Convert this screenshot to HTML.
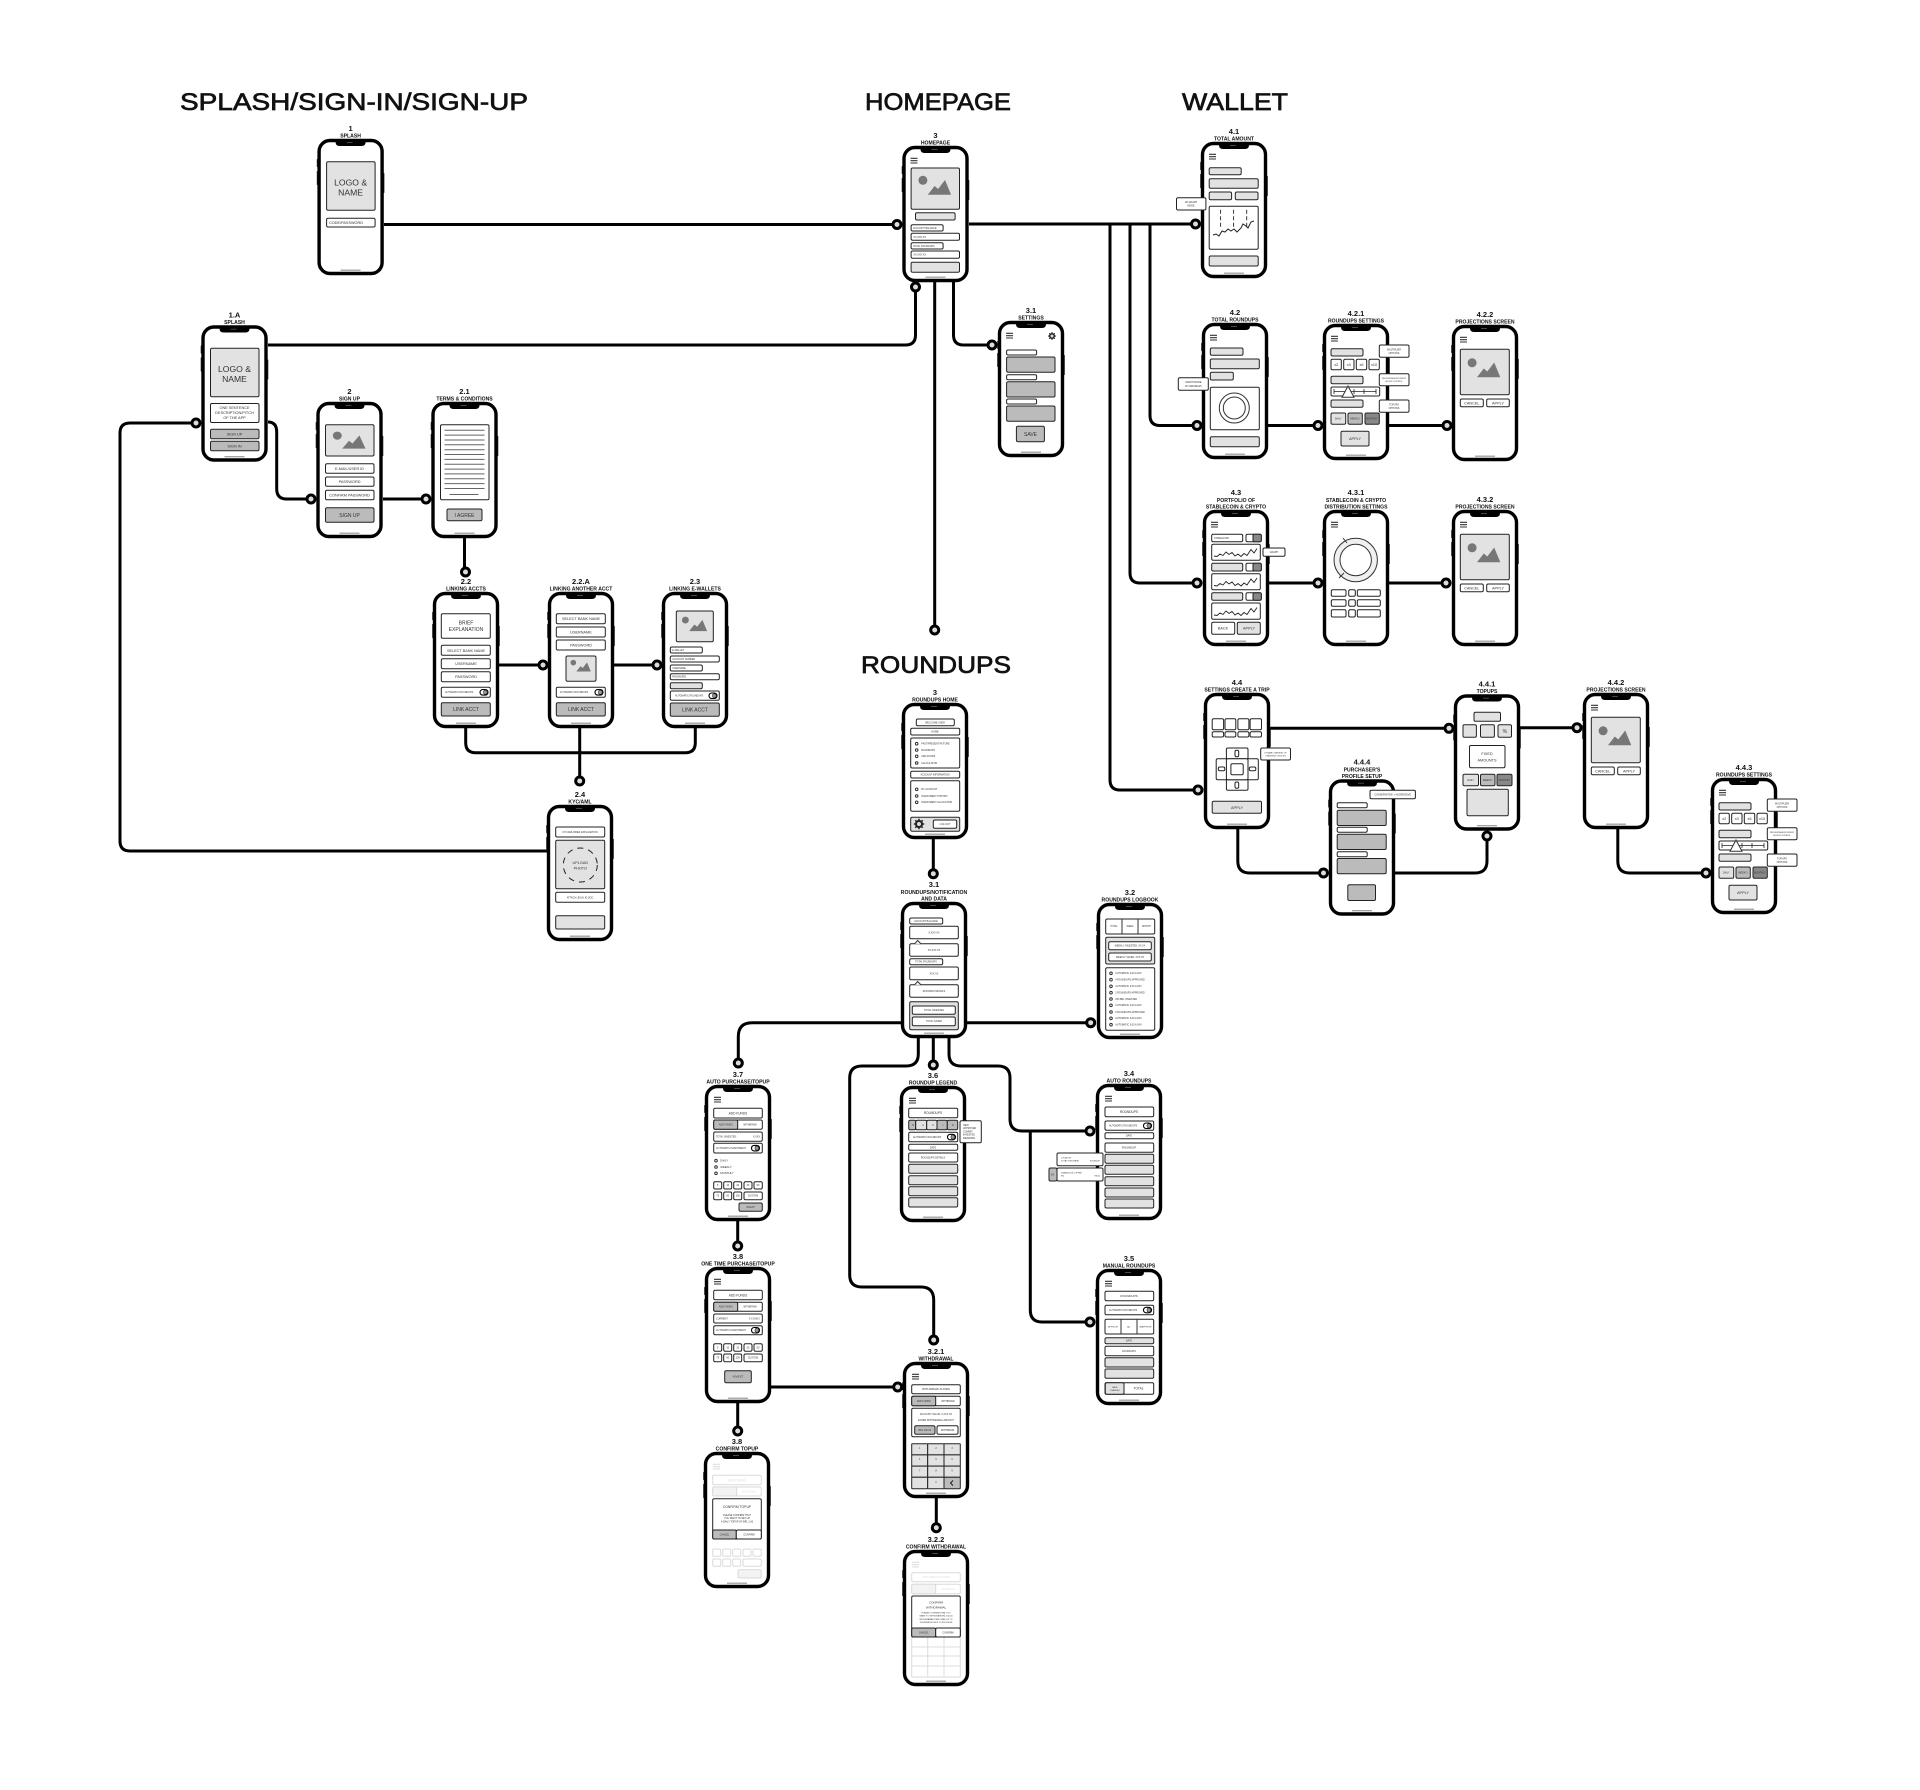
<!DOCTYPE html>
<html><head><meta charset="utf-8"><title>Wireframe flow</title>
<style>
html,body{margin:0;padding:0;background:#fff}
svg{display:block}
text{font-family:"Liberation Sans",sans-serif;font-size:3px;fill:#333;text-anchor:middle}
rect{fill:#fff;stroke:#222;stroke-width:1;rx:1.5px}
.g{fill:#e2e2e2}.m{fill:#bbb}.d{fill:#888}
.a{text-anchor:start}.e{text-anchor:end}
.n{font-size:7.5px;font-weight:bold;fill:#111}
.c{font-size:5.1px;font-weight:bold;fill:#111}
.h{font-size:24.5px;fill:#111;stroke:#111;stroke-width:.7px;text-anchor:start}
.s2{font-size:2.4px}.s4{font-size:3.8px}.s5{font-size:5px}.s9{font-size:8.6px}
.w{stroke:#000;stroke-width:3;fill:none}
.o{fill:#ddd;stroke:#000;stroke-width:3}
.f{opacity:.16}
.ph{fill:#fff;stroke:#000;stroke-width:3.4;rx:11px}
.l{stroke:#666;stroke-width:1;fill:none}
.bl{fill:#fff;stroke:#333;stroke-width:1}
</style></head><body>
<svg width="1920" height="1790" viewBox="0 0 1920 1790" xmlns="http://www.w3.org/2000/svg">
<rect x="0" y="0" width="1920" height="1790" style="fill:#fff;stroke:none;rx:0"/>
<defs>
<g id="p">
<rect x="-.8" y="20" width="1.6" height="8" style="fill:#222;stroke:none;rx:.5px"/>
<rect x="-.8" y="32" width="1.6" height="14" style="fill:#222;stroke:none;rx:.5px"/>
<rect x="65.2" y="34" width="1.6" height="20" style="fill:#222;stroke:none;rx:.5px"/>
<rect class="ph" x="1.5" y="1.5" width="63" height="133"/>
<path d="M18 1H48V3Q48 7 44 7H22Q18 7 18 3Z" fill="#000"/>
<rect x="29" y="3.3" width="6" height=".7" style="fill:#666;stroke:none;rx:0"/>
<rect x="23" y="130.6" width="20" height="1.2" style="fill:#999;stroke:none;rx:0"/>
</g>
<g id="ham"><path d="M8 12.3H15M8 14.7H15M8 17H15" stroke="#333" stroke-width="1.1" fill="none"/></g>
<g id="mt"><circle cx="11.8" cy="16.3" r="4.5" fill="#777"/><path d="M16.7 30.7L23.5 22L27 25L33.9 16L40 30.7Z" fill="#777"/></g>
<g id="tg"><rect x="0" y="0" width="8" height="5.5" style="fill:#fff;stroke:#000;stroke-width:1.1;rx:2.7px"/><rect x="3.5" y=".8" width="3.6" height="3.9" style="fill:#999;stroke:#000;stroke-width:.5;rx:1.4px"/></g>
<g id="sp"><path d="M2 10.5L5 11L8 8.5L11 10L14 6.5L17 9L20 7L23 10.5L26 8.5L29 11L32 8L35 10L39 4L42 7.5L45 3" stroke="#222" stroke-width=".9" fill="none"/></g>
<g id="gr"><circle r="3.1" fill="#fff" stroke="#222" stroke-width="1.8"/><path d="M0-5.2V5.2M-5.2 0H5.2M-3.7-3.7L3.7 3.7M-3.7 3.7L3.7-3.7" stroke="#222" stroke-width="1.5"/><circle r="2" fill="#ddd"/></g>
<g id="rg"><circle r="15" fill="#fff" stroke="#333" stroke-width="1"/><circle r="11" fill="#fff" stroke="#333" stroke-width="1"/></g>
</defs>

<!-- headings -->
<text class="h" x="180" y="110" textLength="348" lengthAdjust="spacingAndGlyphs">SPLASH/SIGN-IN/SIGN-UP</text>
<text class="h" x="865" y="110" textLength="146" lengthAdjust="spacingAndGlyphs">HOMEPAGE</text>
<text class="h" x="1182" y="110" textLength="106" lengthAdjust="spacingAndGlyphs">WALLET</text>
<text class="h" x="861" y="673" textLength="150" lengthAdjust="spacingAndGlyphs">ROUNDUPS</text>

<!-- connectors -->
<path class="w" d="M384 224.5H897
M268 345H905.5Q915.5 345 915.5 335V287
M969 224H1195.5
M953.5 282V335Q953.5 345 963.5 345H992
M934.7 282V630
M1110 224V780Q1110 790 1120 790H1198
M1130 224V573Q1130 583 1140 583H1197
M1150 224V415.5Q1150 425.5 1160 425.5H1197
M1268 425.5H1318M1389 425.5H1447
M1269 583H1318M1389 583H1446
M196 423H130Q120 423 120 433V841Q120 851 130 851H547
M268 422H268Q276.7 422 276.7 432V489Q276.7 499 286.7 499H311
M383 499H426
M464.5 538V572
M499 665H543M614 665H657
M465.7 728V742.7Q465.7 752.7 475.7 752.7H685.3Q695.3 752.7 695.3 742.7V728
M579.7 728V781
M1270 728.3H1449M1520 727.7H1577
M1237.8 829V861Q1237.8 873 1249.8 873H1323.5
M1395 873H1475Q1487 873 1487 861V836
M1617.8 829V861Q1617.8 873 1629.8 873H1706
M933.3 839V873.7
M967 1022.7H1090.7
M901 1022.7H752Q738.3 1022.7 738.3 1036.7V1063
M918.3 1038V1054Q918.3 1066 906 1066H862Q849.7 1066 849.7 1078V1275Q849.7 1287 862 1287H921Q933.7 1287 933.7 1300V1340
M933.3 1038V1065
M949 1038V1054Q949 1066 961 1066H998Q1010 1066 1010 1078V1119Q1010 1131 1022 1131H1090
M1030.3 1131V1310Q1030.3 1322 1042 1322H1090
M737.7 1221V1246
M771 1387H897.7
M737.7 1403V1431
M936.3 1498V1527.7"/>

<!-- 1 -->
<g transform="translate(317.6,139)"><text class="n" x="33" y="-8">1</text><text class="c" x="33" y="-1.5">SPLASH</text><use href="#p"/>
<rect class="g" x="9" y="22.7" width="48.5" height="48.6"/><text class="s9" x="33" y="46.3">LOGO &amp;</text><text class="s9" x="33" y="56.7">NAME</text>
<rect x="9" y="79.3" width="48.5" height="8.7"/><text class="a s4" x="11.5" y="85">CODE/PASSWORD</text></g>

<!-- 1.A -->
<g transform="translate(201.5,325.5)"><text class="n" x="33" y="-8">1.A</text><text class="c" x="33" y="-1.5">SPLASH</text><use href="#p"/>
<rect class="g" x="9" y="22.7" width="48.5" height="48.6"/><text class="s9" x="33" y="46.3">LOGO &amp;</text><text class="s9" x="33" y="56.7">NAME</text>
<rect x="9" y="78" width="48.5" height="19"/><text class="s4" x="33" y="83.3">ONE SENTENCE</text><text class="s4" x="33" y="88.5">DESCRIPTION/PITCH</text><text class="s4" x="33" y="93.7">OF THE APP</text>
<rect class="m" x="9" y="103.7" width="48.5" height="9.6"/><text class="s4" x="33" y="110">SIGN UP</text>
<rect class="m" x="9" y="115.7" width="48.5" height="9.6"/><text class="s4" x="33" y="122">SIGN IN</text></g>

<!-- 2 -->
<g transform="translate(316.5,402)"><text class="n" x="33" y="-8">2</text><text class="c" x="33" y="-1.5">SIGN UP</text><use href="#p"/>
<rect class="g" x="9" y="22.7" width="48.5" height="31.3"/><use href="#mt" transform="translate(9,19) scale(1,.9)"/>
<rect x="9" y="61.7" width="48.5" height="9.6"/><text class="s4" x="33" y="68">E-MAIL/USER ID</text>
<rect x="9" y="75" width="48.5" height="9.3"/><text class="s4" x="33" y="81">PASSWORD</text>
<rect x="9" y="88.3" width="48.5" height="9.4"/><text class="s4" x="33" y="94.3">CONFIRM PASSWORD</text>
<rect class="m" x="9" y="105.7" width="48.5" height="14.6"/><text class="s5" x="33" y="114.8">SIGN UP</text></g>

<!-- 2.1 -->
<g transform="translate(431.5,402)"><text class="n" x="33" y="-8">2.1</text><text class="c" x="33" y="-1.5">TERMS &amp; CONDITIONS</text><use href="#p"/>
<rect x="9" y="22.7" width="48.5" height="75"/>
<path class="l" d="M13 28.3H53M13 33.1H53M13 38H53M13 42.8H53M13 47.7H53M13 52.5H53M13 57.4H53M13 62.2H53M13 67.1H53M13 71.9H53M13 76.8H53M13 81.6H53M13 86.5H53M18 92.5H47"/>
<rect class="m" x="15.5" y="107" width="35" height="11.7"/><text class="s5" x="33" y="114.8">I AGREE</text></g>

<!-- 2.2 -->
<g transform="translate(433,592)"><text class="n" x="33" y="-8">2.2</text><text class="c" x="33" y="-1.5">LINKING ACCTS</text><use href="#p"/>
<rect x="8.3" y="21.7" width="49" height="24.6"/><text class="s5" x="33" y="32.5">BRIEF</text><text class="s5" x="33" y="39">EXPLANATION</text>
<rect x="8.3" y="53.3" width="49" height="10"/><text class="s4" x="33" y="59.8">SELECT BANK NAME</text>
<rect x="8.3" y="66.7" width="49" height="10"/><text class="s4" x="33" y="73.2">USERNAME</text>
<rect x="8.3" y="79.7" width="49" height="10"/><text class="s4" x="33" y="86.2">PASSWORD</text>
<rect x="8.3" y="95.3" width="49" height="10"/><text class="a s2" x="12" y="101">AUTOMATIC ROUNDUPS</text><use href="#tg" x="47" y="97.6"/>
<rect class="m" x="8.3" y="110.7" width="49" height="13.3"/><text class="s5" x="33" y="119">LINK ACCT</text></g>

<!-- 2.2.A -->
<g transform="translate(548,592)"><text class="n" x="33" y="-8">2.2.A</text><text class="c" x="33" y="-1.5">LINKING ANOTHER ACCT</text><use href="#p"/>
<rect x="8.3" y="21.7" width="49" height="10"/><text class="s4" x="33" y="28.2">SELECT BANK NAME</text>
<rect x="8.3" y="35" width="49" height="10"/><text class="s4" x="33" y="41.5">USERNAME</text>
<rect x="8.3" y="48" width="49" height="10"/><text class="s4" x="33" y="54.5">PASSWORD</text>
<rect class="g" x="18" y="64" width="30" height="25.3"/><use href="#mt" transform="translate(18,60.5) scale(.62)"/>
<rect x="8.3" y="95.3" width="49" height="10"/><text class="a s2" x="12" y="101">AUTOMATIC ROUNDUPS</text><use href="#tg" x="47" y="97.6"/>
<rect class="m" x="8.3" y="110.7" width="49" height="13.3"/><text class="s5" x="33" y="119">LINK ACCT</text></g>

<!-- 2.3 -->
<g transform="translate(662,592)"><text class="n" x="33" y="-8">2.3</text><text class="c" x="33" y="-1.5">LINKING E-WALLETS</text><use href="#p"/>
<rect class="g" x="14.3" y="19" width="37" height="30.7"/><use href="#mt" transform="translate(14.3,15.5) scale(.77)"/>
<rect x="8.3" y="55" width="32" height="6"/><text class="a s2" x="10.3" y="59">E-WALLET</text>
<rect x="8.3" y="64" width="49" height="6"/><text class="a s2" x="10.3" y="68">ACCOUNT NUMBER</text>
<rect x="8.3" y="73" width="32" height="6"/><text class="a s2" x="10.3" y="77">USERNAME</text>
<rect x="8.3" y="81.7" width="49" height="6"/><text class="a s2" x="10.3" y="85.7">PASSWORD</text>
<rect class="g" x="8.3" y="90.7" width="32" height="6"/>
<rect x="8.3" y="99" width="49" height="9.3"/><text class="a s2" x="13" y="104.5">AUTOMATIC ROUNDUPS</text><use href="#tg" x="47" y="101"/>
<rect class="m" x="8.3" y="111" width="49" height="13.3"/><text class="s5" x="33" y="119.5">LINK ACCT</text></g>

<!-- 2.4 -->
<g transform="translate(547,805)"><text class="n" x="33" y="-8">2.4</text><text class="c" x="33" y="-1.5">KYC/AML</text><use href="#p"/>
<rect x="8.7" y="22" width="49" height="10"/><text class="s2" x="33" y="28">KYC/AML BRIEF EXPLANATION</text>
<rect class="g" x="8.7" y="35.3" width="49" height="48.4"/><circle cx="33.3" cy="60" r="17" fill="none" stroke="#222" stroke-width="1" stroke-dasharray="6 5"/>
<text class="s4" x="33.3" y="59">UPLOAD</text><text class="s4" x="33.3" y="64.5">PHOTO</text>
<rect x="8.7" y="87.3" width="49" height="10"/><text class="s2" x="33" y="93.3">ATTACH LEGAL ID DOC</text>
<rect class="g" x="8.7" y="110.7" width="49" height="13.3"/></g>

<!-- 3 homepage -->
<g transform="translate(902.5,146)"><text class="n" x="33" y="-8">3</text><text class="c" x="33" y="-1.5">HOMEPAGE</text><use href="#p"/><use href="#ham"/>
<rect class="g" x="8.6" y="22" width="48.4" height="41.3"/><use href="#mt" transform="translate(8.6,18)"/>
<rect class="g" x="13" y="66.7" width="39.6" height="7.3"/>
<rect x="8.6" y="78.7" width="32" height="6.3"/><text class="a s2" x="10.5" y="83">ACCOUNT BALANCE</text>
<rect x="8.6" y="87.3" width="48.4" height="7"/><text class="a s2" x="11" y="91.8">XX,XXX.XX</text>
<rect x="8.6" y="96.7" width="32" height="6.3"/><text class="a s2" x="10.5" y="101">TOTAL ROUNDUPS</text>
<rect x="8.6" y="105" width="48.4" height="7.3"/><text class="a s2" x="11" y="109.6">XX,XXX.XX</text>
<rect class="g" x="8.6" y="116.3" width="48.4" height="10"/></g>

<!-- 3.1 settings -->
<g transform="translate(998,321)"><text class="n" x="33" y="-8">3.1</text><text class="c" x="33" y="-1.5">SETTINGS</text><use href="#p"/><use href="#ham"/><use href="#gr" transform="translate(54,15) scale(.75)"/>
<rect x="8.6" y="29" width="30" height="5"/><rect class="m" x="8.6" y="36" width="48.4" height="15.3"/>
<rect x="8.6" y="53.7" width="30" height="5"/><rect class="m" x="8.6" y="60.7" width="48.4" height="15.3"/>
<rect x="8.6" y="78" width="30" height="5"/><rect class="m" x="8.6" y="85" width="48.4" height="15.3"/>
<rect class="m" x="18.4" y="105.3" width="28" height="15.4"/><text class="s5" x="32.5" y="115">SAVE</text></g>

<!-- 4.1 -->
<g transform="translate(1201,142)"><text class="n" x="33" y="-8">4.1</text><text class="c" x="33" y="-1.5">TOTAL AMOUNT</text><use href="#p"/><use href="#ham"/>
<rect class="g" x="8.2" y="25.7" width="32" height="7"/><rect class="g" x="8.2" y="36.7" width="49" height="9.6"/>
<rect class="g" x="8.2" y="50" width="22.4" height="7.7"/><rect class="g" x="34.3" y="50" width="22.7" height="7.7"/>
<rect x="8.2" y="64.3" width="49" height="43"/>
<path d="M19.6 67.7V86.3M32.6 67.7V86.3M45.7 67.7V86.3" stroke="#222" stroke-width=".9" stroke-dasharray="4 2.5"/>
<path d="M12 94L15 93L18 95L21 90L24 91L27 88L30 90L33 88L36 91L40 87L42 83L45 85L47 87L50 81L53 80" stroke="#222" stroke-width="1" fill="none" transform="translate(0,-1)"/>
<rect class="g" x="8.2" y="114" width="49" height="10"/>
<rect x="-24.5" y="55.7" width="29.4" height="12.3"/><text class="s2" x="-10" y="61">W/ GRAPH</text><text class="s2" x="-10" y="64.5">MODE</text></g>

<!-- 4.2 -->
<g transform="translate(1202,323)"><text class="n" x="33" y="-8">4.2</text><text class="c" x="33" y="-1.5">TOTAL ROUNDUPS</text><use href="#p"/><use href="#ham"/>
<rect class="g" x="8.3" y="25" width="32.7" height="7.3"/><rect class="g" x="8.3" y="36" width="49" height="9.7"/><rect class="g" x="8.3" y="49.3" width="23" height="7.7"/>
<rect x="8.3" y="64.3" width="49" height="42.4"/><use href="#rg" x="32.3" y="85"/>
<rect class="g" x="8.3" y="113.7" width="49" height="10"/>
<rect x="-23.7" y="54.7" width="30" height="12.6"/><text class="s2" x="-8.7" y="60">GRAPH MODE</text><text class="s2" x="-8.7" y="64">W/ VARIABLES</text></g>

<!-- 4.2.1 -->
<g transform="translate(1323,324)"><text class="n" x="33" y="-8">4.2.1</text><text class="c" x="33" y="-1.5">ROUNDUPS SETTINGS</text><use href="#p"/><use href="#ham"/>
<rect class="g" x="8" y="24.7" width="32" height="7.3"/>
<rect x="8" y="35.3" width="10.3" height="10.4"/><text class="s4" x="13.2" y="42">x2</text>
<rect x="20.7" y="35.3" width="10.3" height="10.4"/><text class="s4" x="25.8" y="42">x3</text>
<rect x="33.3" y="35.3" width="10.4" height="10.4"/><text class="s4" x="38.5" y="42">x5</text>
<rect x="46" y="35.3" width="10.3" height="10.4"/><text class="s4" x="51" y="42">x10</text>
<rect class="g" x="8" y="52.3" width="32" height="7.4"/>
<rect x="8" y="63" width="48.7" height="9"/><path d="M11 67.5H53M11 65V70M31 65V70M41 65V70M53 65V70" stroke="#222" stroke-width=".8"/><path d="M25 62L31 73.3H19Z" fill="#fff" stroke="#333"/>
<rect class="g" x="8" y="76" width="32" height="7.3"/>
<rect class="g" x="8" y="89" width="14.7" height="11.3"/><text class="s2" x="15.3" y="95.5">DAILY</text>
<rect class="m" x="25" y="89" width="14.3" height="11.3"/><text class="s2" x="32.2" y="95.5">WEEKLY</text>
<rect class="d" x="42" y="89" width="14.3" height="11.3"/><text class="s2" x="49" y="95.5">MONTHLY</text>
<rect class="g" x="18" y="107.3" width="28" height="14.7"/><text class="s4" x="32" y="116">APPLY</text>
<rect x="56.3" y="21" width="29.7" height="12.3"/><text class="s2" x="71" y="26.5">MULTIPLIER</text><text class="s2" x="71" y="30">OPTIONS</text>
<rect x="56.3" y="49.7" width="29.7" height="12"/><text class="s2" x="71" y="55" style="font-size:2px">PERCENTAGE/ROUNDUP</text><text class="s2" x="71" y="58" style="font-size:2px">SLIDER CONTROL</text>
<rect x="56.3" y="76" width="29.7" height="12.3"/><text class="s2" x="71" y="81.5">TOPUPS</text><text class="s2" x="71" y="85">OPTIONS</text></g>

<!-- 4.2.2 -->
<g transform="translate(1452,325)"><text class="n" x="33" y="-8">4.2.2</text><text class="c" x="33" y="-1.5">PROJECTIONS SCREEN</text><use href="#p"/><use href="#ham"/>
<rect class="g" x="8.3" y="24.3" width="49" height="45.4"/><use href="#mt" transform="translate(8.3,21.5)"/>
<rect x="8.3" y="74" width="23" height="7.7"/><text class="s4" x="19.8" y="79.3">CANCEL</text>
<rect x="34.7" y="74" width="22.6" height="7.7"/><text class="s4" x="46" y="79.3">APPLY</text></g>

<!-- 4.3 -->
<g transform="translate(1203,510)"><text class="n" x="33" y="-15">4.3</text><text class="c" x="33" y="-8">PORTFOLIO OF</text><text class="c" x="33" y="-1.5">STABLECOIN &amp; CRYPTO</text><use href="#p"/><use href="#ham"/>
<rect x="8.7" y="24.3" width="31" height="7.4"/><text class="a s2" x="11" y="29">STABLECOIN</text>
<rect x="43" y="24.3" width="15.3" height="7.4"/><rect class="d" x="50" y="24.3" width="8.3" height="7.4"/>
<rect x="8.7" y="34.3" width="48.6" height="16"/><use href="#sp" x="9" y="35.5"/>
<rect class="g" x="8.7" y="53.3" width="31" height="7.7"/>
<rect x="43" y="53.3" width="15.3" height="7.7"/><rect class="d" x="50" y="53.3" width="8.3" height="7.7"/>
<rect x="8.7" y="63.7" width="48.6" height="16"/><use href="#sp" x="9" y="65"/>
<rect class="g" x="8.7" y="82.7" width="31" height="7.6"/>
<rect x="43" y="82.7" width="15.3" height="7.6"/><rect class="d" x="50" y="82.7" width="8.3" height="7.6"/>
<rect x="8.7" y="93" width="48.6" height="16.3"/><use href="#sp" x="9" y="94.5"/>
<rect x="8.7" y="112.3" width="23" height="12"/><text class="s4" x="20" y="119.5">BACK</text>
<rect class="g" x="34.3" y="112.3" width="23" height="12"/><text class="s4" x="46" y="119.5">APPLY</text>
<rect x="60" y="38" width="22" height="8.3"/><text class="s2" x="71" y="43">GRAPH</text></g>

<!-- 4.3.1 -->
<g transform="translate(1323,510)"><text class="n" x="33" y="-15">4.3.1</text><text class="c" x="33" y="-8">STABLECOIN &amp; CRYPTO</text><text class="c" x="33" y="-1.5">DISTRIBUTION SETTINGS</text><use href="#p"/><use href="#ham"/>
<circle cx="32.7" cy="50" r="21.7" fill="#f0f0f0" stroke="#333"/><circle cx="32.7" cy="50" r="15.7" fill="#fff" stroke="#333"/>
<path d="M24 33L20 28M21 63L16 68" stroke="#333"/>
<rect x="8.3" y="79.7" width="14.7" height="6.6"/><rect x="25.7" y="79.7" width="6.6" height="6.6"/><rect x="34.3" y="79.7" width="23" height="6.6"/>
<rect x="8.3" y="89.7" width="14.7" height="6.6"/><rect x="25.7" y="89.7" width="6.6" height="6.6"/><rect x="34.3" y="89.7" width="23" height="6.6"/>
<rect x="8.3" y="99.7" width="14.7" height="7.3"/><rect x="25.7" y="99.7" width="6.6" height="7.3"/><rect x="34.3" y="99.7" width="23" height="7.3"/></g>

<!-- 4.3.2 -->
<g transform="translate(1452,510)"><text class="n" x="33" y="-8">4.3.2</text><text class="c" x="33" y="-1.5">PROJECTIONS SCREEN</text><use href="#p"/><use href="#ham"/>
<rect class="g" x="8.3" y="24.3" width="49" height="45.4"/><use href="#mt" transform="translate(8.3,21.5)"/>
<rect x="8.3" y="74" width="23" height="7.7"/><text class="s4" x="19.8" y="79.3">CANCEL</text>
<rect x="34.7" y="74" width="22.6" height="7.7"/><text class="s4" x="46" y="79.3">APPLY</text></g>

<!-- 4.4 -->
<g transform="translate(1204,693)"><text class="n" x="33" y="-8">4.4</text><text class="c" x="33" y="-1.5">SETTINGS CREATE A TRIP</text><use href="#p"/>
<rect x="8.2" y="25.7" width="11.4" height="11"/><rect x="21" y="25.7" width="10.8" height="11"/><rect x="33.9" y="25.7" width="11" height="11"/><rect x="46.1" y="25.7" width="11.4" height="11"/>
<rect x="8.2" y="38.7" width="11.4" height="5.3"/><rect x="21" y="38.7" width="10.8" height="5.3"/><rect x="33.9" y="38.7" width="11" height="5.3"/><rect x="46.1" y="38.7" width="11.4" height="5.3"/>
<rect x="22.4" y="55" width="21.6" height="42.3"/><rect x="12.2" y="65.7" width="42.1" height="21"/><rect x="22.4" y="65.7" width="21.6" height="21"/>
<rect x="26.9" y="70.7" width="12.3" height="11"/>
<rect x="31" y="57.3" width="3.7" height="6.4"/><rect x="31" y="89" width="3.7" height="6.3"/><rect x="14.3" y="74" width="6.5" height="3.7"/><rect x="45.3" y="74" width="6.5" height="3.7"/>
<rect class="g" x="8.2" y="108.3" width="49.3" height="12"/><text class="s4" x="33" y="115.8">APPLY</text>
<rect x="56.7" y="55" width="29.8" height="12"/><text x="71.5" y="60.5" style="font-size:2px">DYNAMIC RANTING OF</text><text x="71.5" y="63.5" style="font-size:2px">CHANGING CHOICES</text></g>

<!-- 4.4.1 -->
<g transform="translate(1454,694.5)"><text class="n" x="33" y="-8">4.4.1</text><text class="c" x="33" y="-1.5">TOPUPS</text><use href="#p"/>
<rect class="g" x="20" y="17.7" width="26.5" height="9"/>
<rect class="g" x="9" y="30.3" width="13.4" height="12.4"/><rect class="g" x="26.5" y="30.3" width="13.9" height="12.4"/><rect class="g" x="44" y="30.3" width="13.5" height="12.4"/><text class="s5" x="50.8" y="38.5">%</text>
<rect x="15.5" y="51" width="35.5" height="22.3"/><text class="s4" x="33" y="60.5">FIXED</text><text class="s4" x="33" y="66.8">AMOUNTS</text>
<rect class="g" x="9" y="79.7" width="15.5" height="11.6"/><text class="s2" x="16.8" y="86.5">DAILY</text>
<rect class="m" x="26.5" y="79.7" width="14.5" height="11.6"/><text class="s2" x="33.8" y="86.5">WEEKLY</text>
<rect class="d" x="43" y="79.7" width="15" height="11.6"/><text class="s2" x="50.5" y="86.5">MONTHLY</text>
<rect class="g" x="13" y="94.7" width="41.3" height="26.6"/></g>

<!-- 4.4.2 -->
<g transform="translate(1583,693)"><text class="n" x="33" y="-8">4.4.2</text><text class="c" x="33" y="-1.5">PROJECTIONS SCREEN</text><use href="#p"/><use href="#ham"/>
<rect class="g" x="8.3" y="24.3" width="49" height="45.4"/><use href="#mt" transform="translate(8.3,21.5)"/>
<rect x="8.3" y="74" width="23" height="7.7"/><text class="s4" x="19.8" y="79.3">CANCEL</text>
<rect x="34.7" y="74" width="22.6" height="7.7"/><text class="s4" x="46" y="79.3">APPLY</text></g>

<!-- 4.4.4 -->
<g transform="translate(1329,779.5)"><text class="n" x="33" y="-15">4.4.4</text><text class="c" x="33" y="-8">PURCHASER'S</text><text class="c" x="33" y="-1.5">PROFILE SETUP</text><use href="#p"/>
<rect x="8.2" y="23.3" width="30" height="5"/><rect class="m" x="8.2" y="30.7" width="49" height="15.3"/>
<rect x="8.2" y="47.7" width="30" height="5"/><rect class="m" x="8.2" y="54.7" width="49" height="15.3"/>
<rect x="8.2" y="72.3" width="30" height="5"/><rect class="m" x="8.2" y="79" width="49" height="15.3"/>
<rect class="m" x="18.8" y="105.3" width="27.7" height="15.7"/>
<rect x="41" y="10.7" width="45.4" height="8.6"/><text class="s2" x="63.7" y="16">CONSERVATIVE + AGGRESSIVE</text></g>

<!-- 4.4.3 -->
<g transform="translate(1711,778)"><text class="n" x="33" y="-8">4.4.3</text><text class="c" x="33" y="-1.5">ROUNDUPS SETTINGS</text><use href="#p"/><use href="#ham"/>
<rect class="g" x="8" y="24.7" width="32" height="7.3"/>
<rect x="8" y="35.3" width="10.3" height="10.4"/><text class="s4" x="13.2" y="42">x2</text>
<rect x="20.7" y="35.3" width="10.3" height="10.4"/><text class="s4" x="25.8" y="42">x3</text>
<rect x="33.3" y="35.3" width="10.4" height="10.4"/><text class="s4" x="38.5" y="42">x5</text>
<rect x="46" y="35.3" width="10.3" height="10.4"/><text class="s4" x="51" y="42">x10</text>
<rect class="g" x="8" y="52.3" width="32" height="7.4"/>
<rect x="8" y="63" width="48.7" height="9"/><path d="M11 67.5H53M11 65V70M31 65V70M41 65V70M53 65V70" stroke="#222" stroke-width=".8"/><path d="M25 62L31 73.3H19Z" fill="#fff" stroke="#333"/>
<rect class="g" x="8" y="76" width="32" height="7.3"/>
<rect class="g" x="8" y="89" width="14.7" height="11.3"/><text class="s2" x="15.3" y="95.5">DAILY</text>
<rect class="m" x="25" y="89" width="14.3" height="11.3"/><text class="s2" x="32.2" y="95.5">WEEKLY</text>
<rect class="d" x="42" y="89" width="14.3" height="11.3"/><text class="s2" x="49" y="95.5">MONTHLY</text>
<rect class="g" x="18" y="107.3" width="28" height="14.7"/><text class="s4" x="32" y="116">APPLY</text>
<rect x="56.3" y="21" width="29.7" height="12.3"/><text class="s2" x="71" y="26.5">MULTIPLIER</text><text class="s2" x="71" y="30">OPTIONS</text>
<rect x="56.3" y="49.7" width="29.7" height="12"/><text class="s2" x="71" y="55" style="font-size:2px">PERCENTAGE/ROUNDUP</text><text class="s2" x="71" y="58" style="font-size:2px">SLIDER CONTROL</text>
<rect x="56.3" y="76" width="29.7" height="12.3"/><text class="s2" x="71" y="81.5">TOPUPS</text><text class="s2" x="71" y="85">OPTIONS</text></g>

<!-- Roundups 3 -->
<g transform="translate(902,703)"><text class="n" x="33" y="-8">3</text><text class="c" x="33" y="-1.5">ROUNDUPS HOME</text><use href="#p"/>
<rect x="14.3" y="16" width="38" height="6.7"/><text class="s2" x="33" y="20.3">WELCOME USER</text>
<rect x="8.7" y="25.3" width="49" height="6.7"/><text class="s2" x="33" y="29.6">HOME</text>
<rect x="8.7" y="35" width="49" height="30"/>
<circle class="bl" cx="14.7" cy="40.7" r="1.3"/><circle class="bl" cx="14.7" cy="47" r="1.3"/><circle class="bl" cx="14.7" cy="53.3" r="1.3"/><circle class="bl" cx="14.7" cy="60" r="1.3"/>
<text class="a s2" x="19.3" y="41.6">PAST/PRESENT/FUTURE</text><text class="a s2" x="19.3" y="47.9">ROUNDUPS</text><text class="a s2" x="19.3" y="54.2">ADD FUNDS</text><text class="a s2" x="19.3" y="60.9">CALCULATOR</text>
<rect x="8.7" y="68.3" width="49" height="6.7"/><text class="s2" x="33" y="72.6">ACCOUNT INFORMATION</text>
<rect x="8.7" y="77.7" width="49" height="30.6"/>
<circle class="bl" cx="14.7" cy="86.3" r="1.3"/><circle class="bl" cx="14.7" cy="93" r="1.3"/><circle class="bl" cx="14.7" cy="99.3" r="1.3"/>
<text class="a s2" x="19.3" y="87.2">MY ACCOUNT</text><text class="a s2" x="19.3" y="93.9">INVESTMENT HISTORY</text><text class="a s2" x="19.3" y="100.2">INVESTMENT ALLOCATION</text>
<rect class="g" x="8.7" y="114.3" width="49" height="14"/><use href="#gr" transform="translate(17,121)"/>
<rect x="31.3" y="117" width="23.4" height="8.3"/><text class="s2" x="43" y="122">LOG OUT</text></g>

<!-- 3.1 data -->
<g transform="translate(901,902)"><text class="n" x="33" y="-15">3.1</text><text class="c" x="33" y="-8">ROUNDUPS/NOTIFICATION</text><text class="c" x="33" y="-1.5">AND DATA</text><use href="#p"/>
<rect x="8.7" y="16" width="33" height="6"/><text class="s2" x="25" y="20">ACCOUNT BALANCE</text>
<rect x="8.7" y="24.3" width="48.6" height="12.4"/><text class="s2" x="33" y="31.5">X,XXX.XX</text>
<rect x="8.7" y="41.7" width="48.6" height="12.6"/><path d="M13.5 41.9L16.7 38.5L20 41.9" fill="#fff" stroke="#333"/><text class="s2" x="33" y="49">XX,XXX.XX</text>
<rect x="8.7" y="56.7" width="33" height="6"/><text class="s2" x="25" y="60.7">TOTAL ROUNDUPS</text>
<rect x="8.7" y="65" width="48.6" height="12.7"/><text class="s2" x="33" y="72.3">XXX.XX</text>
<rect x="8.7" y="82.7" width="48.6" height="12.6"/><path d="M13.5 82.9L16.7 79.5L20 82.9" fill="#fff" stroke="#333"/><text class="s2" x="33" y="90">ROUNDUP DETAILS</text>
<rect class="g" x="8.7" y="99.7" width="48.6" height="28"/>
<rect x="11.3" y="104" width="43" height="8.3"/><text class="s2" x="33" y="109">TOTAL INVESTED</text>
<rect x="11.3" y="115" width="43" height="8.7"/><text class="s2" x="33" y="120">TOTAL SAVED</text></g>

<!-- 3.2 logbook -->
<g transform="translate(1097,903)"><text class="n" x="33" y="-8">3.2</text><text class="c" x="33" y="-1.5">ROUNDUPS LOGBOOK</text><use href="#p"/>
<rect x="8.7" y="16" width="49" height="15"/><path d="M25 16V31M41 16V31" stroke="#333"/><text class="s2" x="17" y="24">TOTAL</text><text class="s2" x="33" y="24">WEEK</text><text class="s2" x="49.5" y="24">MONTH</text>
<rect class="g" x="8.7" y="34.3" width="49" height="26.7"/>
<rect x="11.7" y="38.7" width="42.6" height="8"/><text class="s2" x="33" y="43.5">WEEKLY INVESTED: XX.XX</text>
<rect x="11.7" y="50" width="42.6" height="8"/><text class="s2" x="33" y="54.8">WEEKLY SAVED: XXX.XX</text>
<rect x="8.7" y="64.7" width="49" height="62.6"/>
<g class="s2"><circle class="bl" cx="14" cy="70.3" r="1.3"/><circle class="bl" cx="14" cy="76.7" r="1.3"/><circle class="bl" cx="14" cy="83.3" r="1.3"/><circle class="bl" cx="14" cy="89.7" r="1.3"/><circle class="bl" cx="14" cy="96" r="1.3"/><circle class="bl" cx="14" cy="102.3" r="1.3"/><circle class="bl" cx="14" cy="109" r="1.3"/><circle class="bl" cx="14" cy="115.3" r="1.3"/><circle class="bl" cx="14" cy="121.7" r="1.3"/></g>
<text class="a s2" x="18.3" y="71.2">AUTOMATIC 0.00 A DAY</text><text class="a s2" x="18.3" y="77.6">4 ROUNDUPS APPROVED</text><text class="a s2" x="18.3" y="84.2">AUTOMATIC 0.00 A DAY</text><text class="a s2" x="18.3" y="90.6">2 ROUNDUPS APPROVED</text><text class="a s2" x="18.3" y="96.9">250 BRL INVESTED</text><text class="a s2" x="18.3" y="103.2">AUTOMATIC 0.00 A DAY</text><text class="a s2" x="18.3" y="109.9">5 ROUNDUPS APPROVED</text><text class="a s2" x="18.3" y="116.2">AUTOMATIC 0.00 A DAY</text><text class="a s2" x="18.3" y="122.6">AUTOMATIC 0.00 A DAY</text></g>

<!-- 3.7 -->
<g transform="translate(705,1085)"><text class="n" x="33" y="-8">3.7</text><text class="c" x="33" y="-1.5">AUTO PURCHASE/TOPUP</text><use href="#p"/><use href="#ham" transform="translate(1,0)"/>
<rect x="8.7" y="23.3" width="48.6" height="9.7"/><text class="s4" x="33" y="29.5" style="font-size:3.2px">ADD FUNDS</text>
<rect x="8.7" y="35" width="48.6" height="9.3"/><rect class="m" x="8.7" y="35" width="24" height="9.3"/><text class="s2" x="20.7" y="40.7">ADD FUNDS</text><text class="s2" x="45" y="40.7">WITHDRAW</text>
<rect x="8.7" y="47" width="48.6" height="9.3"/><text class="a s2" x="11" y="52.5">TOTAL INVESTED:</text><text class="e s2" x="55" y="52.5">X,XXX</text>
<rect x="8.7" y="58.3" width="48.6" height="9.7"/><text class="a s2" x="11" y="64">AUTOMATIC INVESTMENT</text><use href="#tg" x="46.5" y="60.4"/>
<circle class="bl" cx="11" cy="75.7" r="1.3"/><circle class="bl" cx="11" cy="82" r="1.3"/><circle class="bl" cx="11" cy="88.3" r="1.3"/>
<text class="a s2" x="15.3" y="76.6" style="font-size:2.8px">DAILY</text><text class="a s2" x="15.3" y="82.9" style="font-size:2.8px">WEEKLY</text><text class="a s2" x="15.3" y="89.2" style="font-size:2.8px">MONTHLY</text>
<rect x="8.7" y="96.7" width="8" height="7.3"/><rect x="18.7" y="96.7" width="8" height="7.3"/><rect x="28.7" y="96.7" width="8" height="7.3"/><rect x="39" y="96.7" width="8" height="7.3"/><rect x="49" y="96.7" width="8.3" height="7.3"/>
<text class="s2" x="12.7" y="101.2">5</text><text class="s2" x="22.7" y="101.2">10</text><text class="s2" x="32.7" y="101.2">20</text><text class="s2" x="43" y="101.2">30</text><text class="s2" x="53" y="101.2">50</text>
<rect x="8.7" y="107" width="8" height="7.7"/><rect x="18.7" y="107" width="8" height="7.7"/><rect x="28.7" y="107" width="8" height="7.7"/><rect x="39" y="107" width="18.3" height="7.7"/>
<text class="s2" x="12.7" y="111.7">75</text><text class="s2" x="22.7" y="111.7">90</text><text class="s2" x="32.7" y="111.7">100</text><text class="s2" x="48" y="111.7">CUSTOM</text>
<rect class="m" x="34" y="118" width="23.3" height="8.3"/><text class="s2" x="45.6" y="123">INVEST</text></g>

<!-- 3.8 -->
<g transform="translate(705,1267)"><text class="n" x="33" y="-8">3.8</text><text class="c" x="33" y="-1.5">ONE TIME PURCHASE/TOPUP</text><use href="#p"/><use href="#ham" transform="translate(1,0)"/>
<rect x="8.7" y="23.3" width="48.6" height="9.4"/><text class="s4" x="33" y="29.3" style="font-size:3.2px">ADD FUNDS</text>
<rect x="8.7" y="35.3" width="48.6" height="9"/><rect class="m" x="8.7" y="35.3" width="24" height="9"/><text class="s2" x="20.7" y="40.7">ADD FUNDS</text><text class="s2" x="45" y="40.7">WITHDRAW</text>
<rect x="8.7" y="47" width="48.6" height="9"/><text class="a s2" x="11" y="52.3">CURRENT:</text><text class="e s2" x="55" y="52.3">X.X DAILY</text>
<rect x="8.7" y="58.7" width="48.6" height="9"/><text class="a s2" x="11" y="64">AUTOMATIC INVESTMENT</text><use href="#tg" x="46.5" y="60.5"/>
<rect x="8.7" y="76.7" width="8" height="7.6"/><rect x="18.7" y="76.7" width="8" height="7.6"/><rect x="28.7" y="76.7" width="8" height="7.6"/><rect x="39" y="76.7" width="8" height="7.6"/><rect x="49" y="76.7" width="8.3" height="7.6"/>
<text class="s2" x="12.7" y="81.3">5</text><text class="s2" x="22.7" y="81.3">10</text><text class="s2" x="32.7" y="81.3">20</text><text class="s2" x="43" y="81.3">30</text><text class="s2" x="53" y="81.3">50</text>
<rect x="8.7" y="87" width="8" height="7.7"/><rect x="18.7" y="87" width="8" height="7.7"/><rect x="28.7" y="87" width="8" height="7.7"/><rect x="39" y="87" width="18.3" height="7.7"/>
<text class="s2" x="12.7" y="91.7">75</text><text class="s2" x="22.7" y="91.7">90</text><text class="s2" x="32.7" y="91.7">100</text><text class="s2" x="48" y="91.7">CUSTOM</text>
<rect class="m" x="19.7" y="103.7" width="26.6" height="12"/><text class="s2" x="33" y="110.5" style="font-size:3px">INVEST</text></g>

<!-- 3.8 confirm -->
<g transform="translate(704,1452)"><text class="n" x="33" y="-8">3.8</text><text class="c" x="33" y="-1.5">CONFIRM TOPUP</text><use href="#p"/>
<g class="f"><use href="#ham" transform="translate(1,0)"/>
<rect x="8.7" y="23.3" width="48.6" height="9.4"/><text class="s4" x="33" y="29.3" style="font-size:3.2px">ADD FUNDS</text>
<rect x="8.7" y="35" width="48.6" height="9"/><rect class="m" x="8.7" y="35" width="24" height="9"/><text class="s2" x="45" y="40.5">WITHDRAW</text>
<rect x="8.7" y="97" width="8" height="7.3"/><rect x="18.7" y="97" width="8" height="7.3"/><rect x="28.7" y="97" width="8" height="7.3"/><rect x="39" y="97" width="8" height="7.3"/><rect x="49" y="97" width="8.3" height="7.3"/>
<rect x="8.7" y="107" width="8" height="7.3"/><rect x="18.7" y="107" width="8" height="7.3"/><rect x="28.7" y="107" width="8" height="7.3"/><rect x="39" y="107" width="18.3" height="7.3"/>
<rect class="m" x="34" y="117.7" width="23.3" height="8.3"/></g>
<rect x="8.7" y="46.7" width="48.6" height="40.3"/><text class="s4" x="33" y="56" style="font-size:3.4px">CONFIRM TOPUP</text>
<text class="s2" x="33" y="64">PLEASE CONFIRM THAT</text><text class="s2" x="33" y="67.2">YOU WANT TO SET UP</text><text class="s2" x="33" y="70.4">A DAILY TOPUP OF BRL 1.00</text>
<rect class="m" x="8.7" y="78" width="23.6" height="9"/><rect x="32.3" y="78" width="25" height="9"/><text class="s2" x="20.5" y="83.4">CANCEL</text><text class="s2" x="45" y="83.4">CONFIRM</text></g>

<!-- 3.6 -->
<g transform="translate(900,1086)"><text class="n" x="33" y="-8">3.6</text><text class="c" x="33" y="-1.5">ROUNDUP LEGEND</text><use href="#p"/><use href="#ham" transform="translate(1,0)"/>
<rect x="8.7" y="22.3" width="49" height="9.4"/><text x="33" y="28.2" style="font-size:3.2px">ROUNDUPS</text>
<rect class="m" x="8.7" y="34.3" width="7" height="9.4"/><rect class="g" x="15.7" y="34.3" width="11" height="9.4"/><rect class="g" x="26.7" y="34.3" width="10.3" height="9.4"/><rect class="m" x="37" y="34.3" width="10.3" height="9.4"/><rect class="m" x="47.3" y="34.3" width="10.4" height="9.4"/>
<text class="s2" x="13" y="40">N</text><text class="s2" x="23" y="40">A</text><text class="s2" x="33" y="40">C</text><text class="s2" x="43" y="40">I</text><text class="s2" x="53" y="40">R</text>
<rect x="8.7" y="46.3" width="49" height="9.4"/><text class="a s2" x="13" y="51.8">AUTOMATIC ROUNDUPS</text><use href="#tg" x="47.5" y="48.3"/>
<rect x="8.7" y="58.3" width="49" height="6"/><text class="s2" x="33" y="62.3">DATE</text>
<rect x="8.7" y="67" width="49" height="9"/><text class="s2" x="33" y="72.3">ROUNDUPS DETAILS</text>
<rect class="g" x="8.7" y="78.3" width="49" height="9"/><rect class="g" x="8.7" y="89.7" width="49" height="9"/><rect class="g" x="8.7" y="100.7" width="49" height="9"/><rect class="g" x="8.7" y="111.7" width="49" height="9.3"/>
<rect x="60" y="34.7" width="21.3" height="22"/><text class="a s2" x="63" y="40">NEW</text><text class="a s2" x="63" y="43.2">APPROVED</text><text class="a s2" x="63" y="46.4">COMMIT</text><text class="a s2" x="63" y="49.6">INVESTED</text><text class="a s2" x="63" y="52.8">REWARDS</text></g>

<!-- 3.4 -->
<g transform="translate(1096,1084)"><text class="n" x="33" y="-8">3.4</text><text class="c" x="33" y="-1.5">AUTO ROUNDUPS</text><use href="#p"/><use href="#ham" transform="translate(1,0)"/>
<rect x="9" y="23" width="48.7" height="9.7"/><text x="33" y="29.2" style="font-size:3.2px">ROUNDUPS</text>
<rect x="9" y="37" width="48.7" height="9.3"/><text class="a s2" x="13" y="42.6">AUTOMATIC ROUNDUPS</text><use href="#tg" x="47.5" y="39"/>
<rect x="9" y="48.7" width="48.7" height="6"/><text class="s2" x="33" y="52.7">DATE</text>
<rect x="9" y="59" width="48.7" height="9.3"/><text class="s2" x="33" y="64.5" style="font-size:2.8px">ROUNDUP</text>
<rect class="g" x="9" y="70.3" width="48.7" height="9"/><rect class="g" x="9" y="81.3" width="48.7" height="9"/><rect class="g" x="9" y="92.7" width="48.7" height="9"/><rect class="g" x="9" y="104" width="48.7" height="9"/><rect class="g" x="9" y="115" width="48.7" height="9"/>
<rect x="-39" y="69" width="46" height="12.7"/><text class="a s2" x="-35" y="74.5" style="font-size:2px">LOCATION</text><text class="a s2" x="-35" y="77.5" style="font-size:2px">TOTAL PURCHASE</text><text class="e s2" x="4" y="77.5" style="font-size:2px">ROUNDUP</text>
<rect x="-39" y="84" width="46" height="13"/><rect class="m" x="-47" y="84" width="8" height="13"/><text class="s2" x="-43" y="91.5">EX.</text>
<text class="a s2" x="-35" y="89.5" style="font-size:2px">STARBUCKS COFFEE</text><text class="a s2" x="-35" y="92.5" style="font-size:2px">R$</text><text class="e s2" x="4" y="92.5" style="font-size:2px">R$.00</text></g>

<!-- 3.5 -->
<g transform="translate(1096,1269)"><text class="n" x="33" y="-8">3.5</text><text class="c" x="33" y="-1.5">MANUAL ROUNDUPS</text><use href="#p"/><use href="#ham" transform="translate(1,0)"/>
<rect x="9" y="22.3" width="48.7" height="9.4"/><text x="33" y="28.2" style="font-size:3px">ROUNDUPS</text>
<rect x="9" y="36.3" width="48.7" height="9.4"/><text class="a s2" x="13" y="42">AUTOMATIC ROUNDUPS</text><use href="#tg" x="47.5" y="38.3"/>
<rect x="9" y="50.3" width="48.7" height="14.7"/><path d="M25 50.3V65M41 50.3V65" stroke="#333"/><text class="s2" x="17" y="58.5" style="font-size:2px">APPROVE</text><text class="s2" x="33" y="58.5" style="font-size:2px">ALL</text><text class="s2" x="49.3" y="58.5" style="font-size:2px">UNAPPROVE</text>
<rect class="g" x="9" y="68.7" width="48.7" height="6"/><text class="s2" x="33" y="72.7">DATE</text>
<rect x="9" y="77.3" width="48.7" height="9.4"/><text class="s2" x="33" y="82.8">ROUNDUPS</text>
<rect class="g" x="9" y="88.7" width="48.7" height="9.3"/><rect class="g" x="9" y="100" width="48.7" height="9.3"/>
<rect x="9" y="113.7" width="48.7" height="11.6"/><rect class="g" x="9.3" y="113.7" width="18.7" height="11.6"/><text class="s2" x="18.7" y="118.8" style="font-size:2px">SAVE</text><text class="s2" x="18.7" y="121.8" style="font-size:2px">CHANGES</text><text x="42.5" y="120.7" style="font-size:3.2px">TOTAL</text></g>

<!-- 3.2.1 -->
<g transform="translate(903,1362)"><text class="n" x="33" y="-8">3.2.1</text><text class="c" x="33" y="-1.5">WITHDRAWAL</text><use href="#p"/><use href="#ham" transform="translate(1,0)"/>
<rect x="8.7" y="22.7" width="48.6" height="9"/><text x="33" y="28.2">WITHDRAW FUNDS</text>
<rect x="8.7" y="34.3" width="48.6" height="9.4"/><rect class="m" x="8.7" y="34.3" width="24" height="9.4"/><text class="s2" x="20.7" y="39.9">ADD FUNDS</text><text class="s2" x="45" y="39.9">WITHDRAW</text>
<rect x="8.7" y="46.3" width="48.6" height="28.4"/><text class="s2" x="33" y="53.2">ACCOUNT VALUE: X,XXX.XX</text><text class="s2" x="33" y="59.2">ENTER WITHDRAWAL AMOUNT</text>
<rect class="m" x="11.7" y="63.7" width="20.3" height="8.6"/><text class="s2" x="21.8" y="68.8">BRL 100.00</text>
<rect x="34" y="63.7" width="21" height="8.6"/><text class="s2" x="44.5" y="68.8">WITHDRAW</text>
<rect class="g" x="8.7" y="81.7" width="16" height="11.2" style="rx:.5px"/><rect class="g" x="24.7" y="81.7" width="16.3" height="11.2" style="rx:.5px"/><rect class="g" x="41" y="81.7" width="16.3" height="11.2" style="rx:.5px"/>
<rect class="g" x="8.7" y="92.9" width="16" height="11.2" style="rx:.5px"/><rect class="g" x="24.7" y="92.9" width="16.3" height="11.2" style="rx:.5px"/><rect class="g" x="41" y="92.9" width="16.3" height="11.2" style="rx:.5px"/>
<rect class="g" x="8.7" y="104.1" width="16" height="11.2" style="rx:.5px"/><rect class="g" x="24.7" y="104.1" width="16.3" height="11.2" style="rx:.5px"/><rect class="g" x="41" y="104.1" width="16.3" height="11.2" style="rx:.5px"/>
<rect class="g" x="8.7" y="115.3" width="16" height="11.4" style="rx:.5px"/><rect class="g" x="24.7" y="115.3" width="16.3" height="11.4" style="rx:.5px"/><rect class="m" x="41" y="115.3" width="16.3" height="11.4" style="rx:.5px"/>
<text class="s2" x="16.7" y="87">1</text><text class="s2" x="33" y="87">2</text><text class="s2" x="49" y="87">3</text><text class="s2" x="16.7" y="98.2">4</text><text class="s2" x="33" y="98.2">5</text><text class="s2" x="49" y="98.2">6</text><text class="s2" x="16.7" y="109.4">7</text><text class="s2" x="33" y="109.4">8</text><text class="s2" x="49" y="109.4">9</text><text class="s2" x="33" y="120.8">0</text>
<path d="M50 118.5L47.5 121L50 123.5" stroke="#111" stroke-width=".9" fill="none"/></g>

<!-- 3.2.2 -->
<g transform="translate(903,1550)"><text class="n" x="33" y="-8">3.2.2</text><text class="c" x="33" y="-1.5">CONFIRM WITHDRAWAL</text><use href="#p"/>
<g class="f"><use href="#ham" transform="translate(1,0)"/>
<rect x="8.7" y="22.7" width="48.6" height="9"/><text x="33" y="28.2">WITHDRAW FUNDS</text>
<rect x="8.7" y="34.3" width="48.6" height="9.4"/><rect class="m" x="8.7" y="34.3" width="24" height="9.4"/><text class="s2" x="45" y="39.9">WITHDRAW</text>
<rect x="8.7" y="87" width="48.6" height="40" style="rx:.5px"/><path d="M24.7 87V127M41 87V127M8.7 97H57M8.7 106H57M8.7 116H57" stroke="#333"/></g>
<rect x="8.7" y="46" width="48.6" height="41"/><text x="33" y="53.5">CONFIRM</text><text x="33" y="58.5">WITHDRAWAL</text>
<text class="s2" x="33" y="63.5" style="font-size:2.1px">PLEASE CONFIRM THAT YOU</text><text class="s2" x="33" y="66.7" style="font-size:2.1px">WANT TO WITHDRAW BRL 100.00</text><text class="s2" x="33" y="69.9" style="font-size:2.1px">WITHDRAWALS MAY TAKE UP TO</text><text class="s2" x="33" y="73.1" style="font-size:2.1px">3 BUSINESS DAYS TO PROCESS</text>
<rect class="m" x="8.7" y="78" width="24" height="9"/><rect x="32.7" y="78" width="24.6" height="9"/><text class="s2" x="20.7" y="83.4">CANCEL</text><text class="s2" x="45" y="83.4">CONFIRM</text></g>

<!-- connector dots -->
<g class="o">
<circle cx="897" cy="224.5" r="4"/><circle cx="915.5" cy="287" r="4"/><circle cx="992" cy="345" r="4"/><circle cx="934.7" cy="630" r="4"/>
<circle cx="1195.5" cy="224" r="4"/><circle cx="1197" cy="425.5" r="4"/><circle cx="1318" cy="425.5" r="4"/><circle cx="1447" cy="425.5" r="4"/>
<circle cx="1197" cy="583" r="4"/><circle cx="1318" cy="583" r="4"/><circle cx="1446" cy="583" r="4"/><circle cx="1198" cy="790" r="4"/>
<circle cx="196" cy="423" r="4"/><circle cx="311" cy="499" r="4"/><circle cx="426" cy="499" r="4"/><circle cx="465.5" cy="572" r="4"/>
<circle cx="543" cy="665" r="4"/><circle cx="657" cy="665" r="4"/><circle cx="579.7" cy="781" r="4"/>
<circle cx="1449" cy="728.3" r="4"/><circle cx="1577" cy="727.7" r="4"/><circle cx="1323.5" cy="873" r="4"/><circle cx="1487" cy="836" r="4"/><circle cx="1706" cy="873" r="4"/>
<circle cx="933.3" cy="873.7" r="4"/><circle cx="1090.7" cy="1022.7" r="4"/><circle cx="738.3" cy="1063" r="4"/><circle cx="933.3" cy="1065" r="4"/>
<circle cx="1090" cy="1131" r="4"/><circle cx="1090" cy="1322" r="4"/><circle cx="933.7" cy="1340" r="4"/><circle cx="737.7" cy="1246" r="4"/><circle cx="897.7" cy="1387" r="4"/><circle cx="737.7" cy="1431" r="4"/><circle cx="936.3" cy="1527.7" r="4"/>
</g>
</svg>
</body></html>
